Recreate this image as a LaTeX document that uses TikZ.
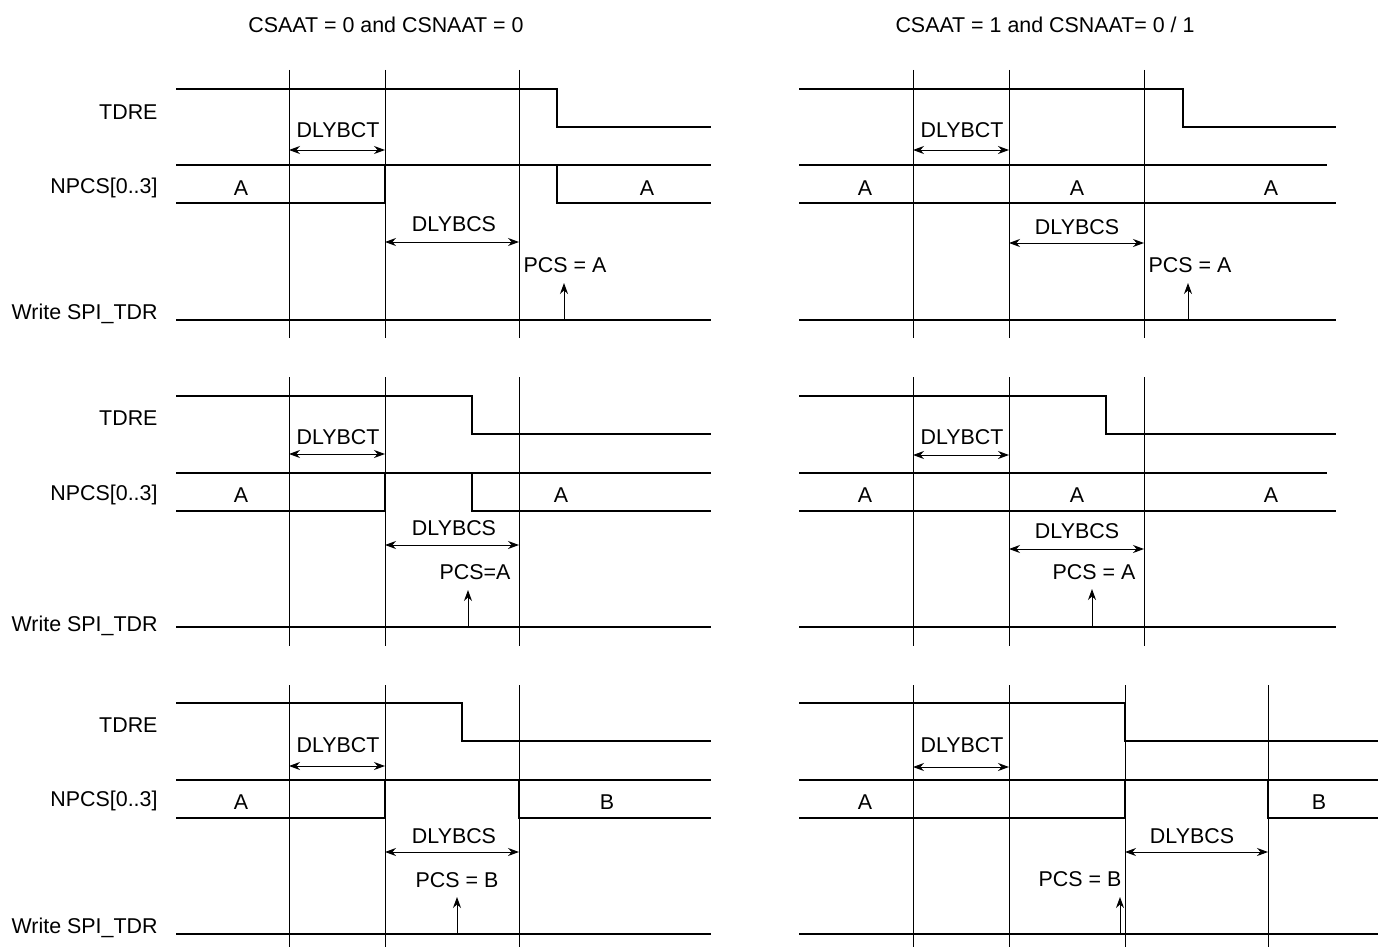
\documentclass[tikz,border=0pt]{standalone}
\usepackage{fontspec}
\setmainfont{Liberation Sans}
\usetikzlibrary{arrows.meta}

\begin{document}
\begin{tikzpicture}[x=1pt, y=-1pt, line width=1pt,
    sig/.style={line width=2.8pt},
    tick/.style={line width=1pt},
    span/.style={{Stealth[length=11pt,width=8pt]}-{Stealth[length=11pt,width=8pt]}, line width=1pt},
    req/.style={-{Stealth[length=11pt,width=8pt]}, line width=1pt},
    txt/.style={anchor=center, inner sep=0pt, font=\fontsize{21.4}{25}\selectfont},
    sname/.style={txt, anchor=east}]

  %% ════ titles ════
  \node[txt] (ttlL) at (386,25) {CSAAT = 0 and CSNAAT = 0};
  \node[txt] (ttlR) at (1045,25) {CSAAT = 1 and CSNAAT= 0 / 1};

  %% ════ signal names (left column) ════
  \node[sname] (tdreA) at (158,112) {TDRE};
  \node[sname] (npcsA) at (158,188) {NPCS[0..3]};
  \node[sname] (wrA)   at (158,314) {Write SPI\_TDR};
  \node[sname] (tdreB) at (158,418) {TDRE};
  \node[sname] (npcsB) at (158,495) {NPCS[0..3]};
  \node[sname] (wrB)   at (158,626) {Write SPI\_TDR};
  \node[sname] (tdreC) at (158,725) {TDRE};
  \node[sname] (npcsC) at (158,801) {NPCS[0..3]};
  \node[sname] (wrC)   at (158,928) {Write SPI\_TDR};

  %% ════ panel 1 : top left ════
  \foreach \x in {289,385,519} \draw[tick] (\x,70) -- (\x,338);
  \draw[sig] (176,89) -- (557,89) -- (557,127) -- (711,127);
  \draw[sig] (176,165) -- (711,165);
  \draw[sig] (176,203) -- (385,203) -- (385,165);
  \draw[sig] (557,165) -- (557,203) -- (711,203);
  \draw[sig] (176,320) -- (711,320);
  \draw[span] (289,150) -- (385,150);
  \draw[span] (385,242) -- (519,242);
  \draw[req] (564,320) -- (564,283);
  \node[txt] (bct1) at (338,130) {DLYBCT};
  \node[txt] (bcs1) at (454,224) {DLYBCS};
  \node[txt] (pcs1) at (565,265) {PCS = A};
  \node[txt] (a1l)  at (241,188) {A};
  \node[txt] (a1r)  at (647,188) {A};

  %% ════ panel 2 : top right ════
  \foreach \x in {913,1009,1144} \draw[tick] (\x,70) -- (\x,338);
  \draw[sig] (799,89) -- (1183,89) -- (1183,127) -- (1336,127);
  \draw[sig] (799,165) -- (1327,165);
  \draw[sig] (799,203) -- (1336,203);
  \draw[sig] (799,320) -- (1336,320);
  \draw[span] (913,150) -- (1009,150);
  \draw[span] (1009,243) -- (1144,243);
  \draw[req] (1188,320) -- (1188,283);
  \node[txt] (bct2) at (962,130) {DLYBCT};
  \node[txt] (bcs2) at (1077,227) {DLYBCS};
  \node[txt] (pcs2) at (1190,265) {PCS = A};
  \node[txt] (a2l)  at (865,188) {A};
  \node[txt] (a2m)  at (1077,188) {A};
  \node[txt] (a2r)  at (1271,188) {A};

  %% ════ panel 3 : middle left ════
  \foreach \x in {289,385,519} \draw[tick] (\x,377) -- (\x,646);
  \draw[sig] (176,396) -- (472,396) -- (472,434) -- (711,434);
  \draw[sig] (176,473) -- (711,473);
  \draw[sig] (176,511) -- (385,511) -- (385,473);
  \draw[sig] (472,473) -- (472,511) -- (711,511);
  \draw[sig] (176,627) -- (711,627);
  \draw[span] (289,454) -- (385,454);
  \draw[span] (385,545) -- (519,545);
  \draw[req] (468,627) -- (468,590);
  \node[txt] (bct3) at (338,437) {DLYBCT};
  \node[txt] (bcs3) at (454,528) {DLYBCS};
  \node[txt] (pcs3) at (475,572) {PCS=A};
  \node[txt] (a3l)  at (241,495) {A};
  \node[txt] (a3r)  at (561,495) {A};

  %% ════ panel 4 : middle right ════
  \foreach \x in {913,1009,1144} \draw[tick] (\x,377) -- (\x,646);
  \draw[sig] (799,396) -- (1106,396) -- (1106,434) -- (1336,434);
  \draw[sig] (799,473) -- (1327,473);
  \draw[sig] (799,511) -- (1336,511);
  \draw[sig] (799,627) -- (1336,627);
  \draw[span] (913,455) -- (1009,455);
  \draw[span] (1009,549) -- (1144,549);
  \draw[req] (1092,627) -- (1092,589);
  \node[txt] (bct4) at (962,437) {DLYBCT};
  \node[txt] (bcs4) at (1077,531) {DLYBCS};
  \node[txt] (pcs4) at (1094,572) {PCS = A};
  \node[txt] (a4l)  at (865,495) {A};
  \node[txt] (a4m)  at (1077,495) {A};
  \node[txt] (a4r)  at (1271,495) {A};

  %% ════ panel 5 : bottom left ════
  \foreach \x in {289,385,519} \draw[tick] (\x,685) -- (\x,947);
  \draw[sig] (176,703) -- (462,703) -- (462,741) -- (711,741);
  \draw[sig] (176,780) -- (711,780);
  \draw[sig] (176,818) -- (385,818) -- (385,780);
  \draw[sig] (519,780) -- (519,818) -- (711,818);
  \draw[sig] (176,934) -- (711,934);
  \draw[span] (289,766) -- (385,766);
  \draw[span] (385,852) -- (519,852);
  \draw[req] (457,934) -- (457,897);
  \node[txt] (bct5) at (338,745) {DLYBCT};
  \node[txt] (bcs5) at (454,836) {DLYBCS};
  \node[txt] (pcs5) at (457,880) {PCS = B};
  \node[txt] (a5)   at (241,802) {A};
  \node[txt] (b5)   at (607,802) {B};

  %% ════ panel 6 : bottom right ════
  \foreach \x in {913,1009,1125,1268} \draw[tick] (\x,685) -- (\x,947);
  \draw[sig] (799,703) -- (1125,703) -- (1125,741) -- (1378,741);
  \draw[sig] (799,780) -- (1378,780);
  \draw[sig] (799,818) -- (1125,818) -- (1125,780);
  \draw[sig] (1268,780) -- (1268,818) -- (1378,818);
  \draw[sig] (799,934) -- (1378,934);
  \draw[span] (913,767) -- (1009,767);
  \draw[span] (1125,852) -- (1268,852);
  \draw[req] (1120,934) -- (1120,897);
  \node[txt] (bct6) at (962,745) {DLYBCT};
  \node[txt] (bcs6) at (1192,836) {DLYBCS};
  \node[txt] (pcs6) at (1080,879) {PCS = B};
  \node[txt] (a6)   at (865,802) {A};
  \node[txt] (b6)   at (1319,802) {B};

  % fix the canvas to the reference size
  \pgfresetboundingbox
  \path[use as bounding box] (0,0) rectangle (1378,947);
\end{tikzpicture}
\end{document}
